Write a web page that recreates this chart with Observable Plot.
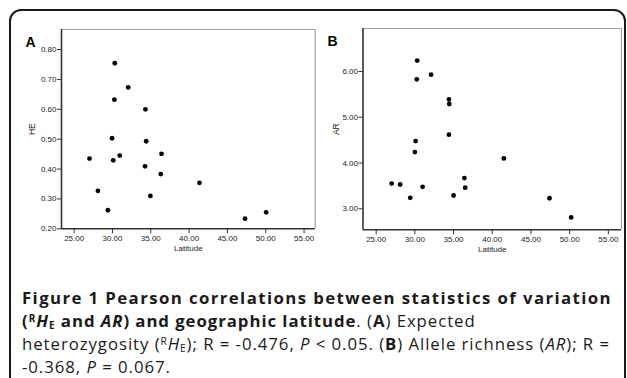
<!DOCTYPE html>
<html><head><meta charset="utf-8">
<script src="https://cdn.jsdelivr.net/npm/d3@7"></script>
<script src="https://cdn.jsdelivr.net/npm/@observablehq/plot@0.6"></script>
<style>
html,body{margin:0;padding:0;background:#fff;}
body{width:627px;height:378px;overflow:hidden;position:relative;font-family:"Liberation Sans",Arial,sans-serif;}
#border{position:absolute;left:9px;top:9px;width:617px;height:420px;border:2px solid #1a1a1a;border-radius:12px;box-sizing:border-box;}
#pa{position:absolute;left:0;top:0;}
#pb{position:absolute;left:320px;top:0;}
#cap{position:absolute;left:22px;top:285.5px;font-family:"Open Sans",sans-serif;font-size:16.8px;color:#1a1a1a;line-height:23px;white-space:nowrap;}
#cap .l{display:block;height:23px;}
#cap .t{display:inline-block;}
#cap b{font-weight:700;}
#cap sup{font-size:0.6em;vertical-align:0.5em;line-height:0;}
#cap sub{font-size:0.6em;vertical-align:-0.15em;line-height:0;}
</style></head>
<body>
<div id="border"></div>
<div id="pa"></div>
<div id="pb"></div>
<div id="cap">
<span class="l"><span class="t" id="l1"><b>Figure 1 Pearson correlations between statistics of variation</b></span></span>
<span class="l"><span class="t" id="l2"><b>(<sup>R</sup><i>H</i><sub>E</sub> and <i>AR</i>) and geographic latitude</b>. (<b>A</b>) Expected</span></span>
<span class="l"><span class="t" id="l3">heterozygosity (<sup>R</sup><i>H</i><sub>E</sub>); R = -0.476, <i>P</i> &lt; 0.05. (<b>B</b>) Allele richness (<i>AR</i>); R =</span></span>
<span class="l"><span class="t" id="l4">-0.368, <i>P</i> = 0.067.</span></span>
</div>
<script>
// Panel A: latitude vs expected heterozygosity (HE)
const latA = [27.0, 28.1, 29.4, 29.95, 30.1, 30.3, 30.25, 30.95, 32.05, 34.3, 34.4, 34.25, 36.4, 36.3, 34.95, 41.35, 47.3, 50.05];
const heA  = [0.435, 0.327, 0.262, 0.503, 0.429, 0.754, 0.632, 0.445, 0.673, 0.600, 0.493, 0.409, 0.451, 0.383, 0.310, 0.354, 0.234, 0.255];
// Panel B: latitude vs allele richness (AR)
const latB = [27.0, 28.1, 29.4, 30.1, 30.0, 30.3, 30.25, 31.0, 32.1, 34.4, 34.45, 34.4, 35.0, 36.4, 36.5, 41.5, 47.4, 50.2];
const arB  = [3.55, 3.53, 3.24, 4.48, 4.24, 6.24, 5.83, 3.48, 5.93, 5.39, 5.29, 4.62, 3.29, 3.67, 3.46, 4.10, 3.23, 2.81];
// Tick labels
const xTicks = [25, 30, 35, 40, 45, 50, 55];
const heTicks = [0.2, 0.3, 0.4, 0.5, 0.6, 0.7, 0.8];
const arTicks = [3, 4, 5, 6];

function panel({lat, val, xDomain, yDomain, yTicks, yLabel, letter, width, height, ml, mr, mt, mb, labelDx, letterDx}) {
  const data = lat.map((d, i) => ({lat: d, v: val[i]}));
  const [x0, x1] = xDomain, [y0, y1] = yDomain;
  return Plot.plot({
    width, height, marginLeft: ml, marginRight: mr, marginTop: mt, marginBottom: mb,
    style: {fontFamily: "'Liberation Sans', Arial, sans-serif", background: "transparent", color: "#222", overflow: "visible"},
    x: {domain: xDomain},
    y: {domain: yDomain},
    marks: [
      Plot.ruleY([y1], {stroke: "#a0a0a0", strokeWidth: 1.2}),
      Plot.ruleX([x1], {stroke: "#a0a0a0", strokeWidth: 1.2}),
      Plot.axisX(xTicks, {tickFormat: d3.format(".2f"), tickSize: 5, tickPadding: 2, fontSize: 8, label: null, stroke: "#333"}),
      Plot.axisY(yTicks, {tickFormat: d3.format(".2f"), tickSize: 4, tickPadding: 1, fontSize: 8, label: null, stroke: "#333"}),
      Plot.ruleX([x0], {stroke: "#333", strokeWidth: 1.6}),
      Plot.ruleY([y0], {stroke: "#333", strokeWidth: 1.6}),
      Plot.dot(data, {x: "lat", y: "v", r: 2.4, fill: "#000", stroke: null}),
      Plot.text([yLabel], {frameAnchor: "left", dx: labelDx, rotate: -90, fontSize: 8.5, textAnchor: "middle", lineAnchor: "middle"}),
      Plot.text(["Latitude"], {frameAnchor: "bottom", dy: 19.5, fontSize: 8, textAnchor: "middle", lineAnchor: "middle"}),
      Plot.text([letter], {frameAnchor: "top-left", dx: letterDx, dy: 13, fontSize: 14, fontWeight: "bold", fill: "#000", textAnchor: "middle", lineAnchor: "middle"})
    ]
  });
}

document.getElementById("pa").append(panel({
  lat: latA, val: heA, xDomain: [23.35, 56.45], yDomain: [0.2, 0.867], yTicks: heTicks,
  yLabel: "HE", letter: "A", width: 320, height: 262, ml: 61, mr: 5.3, mt: 29, mb: 33.7, labelDx: -29, letterDx: -31
}));
document.getElementById("pb").append(panel({
  lat: latB, val: arB, xDomain: [23.3, 56.7], yDomain: [2.54, 6.94], yTicks: arTicks,
  yLabel: "AR", letter: "B", width: 307, height: 262, ml: 42.5, mr: 6, mt: 28, mb: 32.7, labelDx: -27, letterDx: -30.5
}));

// fit caption widths with letter-spacing: bold line 1 ~590px, regular line 3 ~588px
function fit(el, target) {
  const w = el.getBoundingClientRect().width;
  const ls = (target - w) / el.textContent.length;
  return ls;
}
const l1 = document.getElementById("l1"), l3 = document.getElementById("l3");
const ls1 = fit(l1, 590), ls3 = fit(l3, 588);
l1.style.letterSpacing = ls1.toFixed(3) + "px";
for (const id of ["l2", "l3", "l4"]) document.getElementById(id).style.letterSpacing = ls3.toFixed(3) + "px";
</script>
</body></html>
